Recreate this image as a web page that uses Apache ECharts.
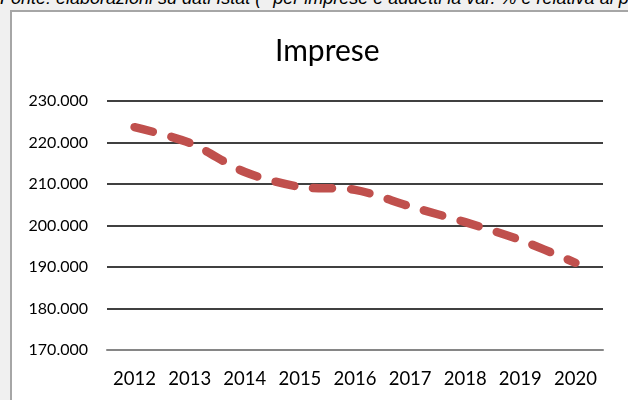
<!DOCTYPE html>
<html>
<head>
<meta charset="utf-8">
<script src="https://cdn.jsdelivr.net/npm/echarts@6/dist/echarts.min.js"></script>
<style>
  html, body { margin: 0; padding: 0; background: #fff; }
  #page { position: relative; width: 628px; height: 400px; overflow: hidden; background: #f0f0f0; }
  #note { position: absolute; left: 0px; top: -12px; font: italic 18px "Liberation Sans", Arial, sans-serif; white-space: nowrap; color: #000; }
  #box { position: absolute; left: 10px; top: 10px; width: 640px; height: 420px; background: #fff; border-left: 2px solid #a6a6a6; border-top: 2px solid #a6a6a6; }
  #chart { position: absolute; left: 0; top: 0; width: 628px; height: 400px; }
</style>
</head>
<body>
<div id="page">
  <div id="note">Fonte: elaborazioni su dati Istat (* per imprese e addetti la var. % è relativa al periodo 2012-2020)</div>
  <div id="box"></div>
  <div id="chart"></div>
</div>
<script>
// dati
var anni = ['2012', '2013', '2014', '2015', '2016', '2017', '2018', '2019', '2020'];
var imprese = [223700, 219900, 212900, 209300, 208600, 204600, 200800, 196500, 191000];
var yTicks = [170000, 180000, 190000, 200000, 210000, 220000, 230000];

var formatMigliaia = function (v) {
    return String(v).replace(/\B(?=(\d{3})+(?!\d))/g, '.');
};

var chart = echarts.init(document.getElementById('chart'));

var option = {
    animation: false,
    backgroundColor: 'transparent',
    title: {
        text: 'Imprese',
        left: 270,
        top: 31,
        textStyle: { fontFamily: 'Lato', fontWeight: 'normal', fontSize: 30, color: '#000' }
    },
    grid: { left: 107, right: 25, top: 101, bottom: 50 },
    xAxis: {
        type: 'category',
        data: anni,
        boundaryGap: true,
        axisTick: { show: false },
        axisLine: { lineStyle: { color: '#868686', width: 2 } },
        axisLabel: { color: '#000', fontFamily: 'Lato', fontSize: 18.5, margin: 20, interval: 0 }
    },
    yAxis: {
        type: 'value',
        min: yTicks[0],
        max: yTicks[yTicks.length - 1],
        interval: 10000,
        axisLine: { show: false },
        axisTick: { show: false },
        splitLine: { lineStyle: { color: '#000', width: 1.5 } },
        axisLabel: { color: '#000', fontFamily: 'Lato', fontSize: 16, margin: 19, formatter: formatMigliaia }
    },
    series: [{
        name: 'Imprese',
        type: 'line',
        data: imprese,
        showSymbol: false,
        smooth: 0.3,
        lineStyle: { color: '#c0504d', width: 8.5, type: [19, 19], cap: 'round', join: 'round' }
    }]
};

chart.setOption(option);
</script>
</body>
</html>
